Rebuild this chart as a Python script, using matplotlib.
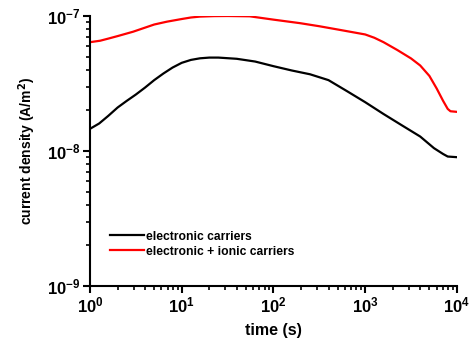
import numpy as np
import matplotlib
matplotlib.use('Agg')
import matplotlib.pyplot as plt
from matplotlib.ticker import LogLocator, NullFormatter

plt.rcParams['font.family'] = ['Liberation Sans', 'DejaVu Sans']
plt.rcParams['font.weight'] = 'bold'

# electronic carriers only
t_elec = [1, 1.26, 1.58, 2.0, 2.51, 3.16, 3.98, 5.01, 6.31, 7.94, 10, 12.6, 15.8, 20, 25.1,
          39.8, 63.1, 100, 158, 251, 398, 631, 1000, 1585, 2512, 3981, 5623, 7079, 7943, 10000]
j_elec = [1.46e-8, 1.6e-8, 1.82e-8, 2.1e-8, 2.35e-8, 2.62e-8, 2.95e-8, 3.35e-8, 3.75e-8, 4.15e-8,
          4.5e-8, 4.73e-8, 4.86e-8, 4.92e-8, 4.92e-8, 4.82e-8, 4.6e-8, 4.25e-8, 3.95e-8, 3.7e-8,
          3.35e-8, 2.78e-8, 2.3e-8, 1.88e-8, 1.55e-8, 1.28e-8, 1.05e-8, 9.5e-9, 9.1e-9, 9.0e-9]

# electronic + ionic carriers
t_ion = [1, 1.29, 1.58, 2.0, 2.95, 3.98, 5.01, 6.9, 10, 12.6, 15.8, 22.4, 31.6, 55, 100,
         195, 316, 525, 1000, 1259, 1585, 2239, 3162, 3981, 5012, 6026, 7079, 7943, 8511, 10000]
j_ion = [6.4e-8, 6.56e-8, 6.8e-8, 7.1e-8, 7.65e-8, 8.2e-8, 8.65e-8, 9.08e-8, 9.5e-8, 9.75e-8,
         9.9e-8, 9.98e-8, 1.0e-7, 9.95e-8, 9.4e-8, 8.85e-8, 8.4e-8, 7.9e-8, 7.3e-8, 6.9e-8,
         6.4e-8, 5.6e-8, 4.85e-8, 4.3e-8, 3.6e-8, 2.9e-8, 2.35e-8, 2.05e-8, 1.97e-8, 1.95e-8]

fig = plt.figure(figsize=(4.72, 3.45), dpi=100)
ax = fig.add_axes([0.1907, 0.171, 0.7773, 0.7826])

ax.plot(t_elec, j_elec, color='black', lw=1.6, label='electronic carriers')
ax.plot(t_ion, j_ion, color='red', lw=1.6, label='electronic + ionic carriers')

ax.set_xscale('log')
ax.set_yscale('log')
ax.set_xlim(1, 1e4)
ax.set_ylim(1e-9, 1e-7)

for s in ['top', 'right']:
    ax.spines[s].set_visible(False)
for s in ['left', 'bottom']:
    ax.spines[s].set_linewidth(1.5)

ax.xaxis.set_major_locator(LogLocator(base=10, numticks=10))
ax.xaxis.set_minor_locator(LogLocator(base=10, subs=np.arange(2, 10), numticks=20))
ax.yaxis.set_minor_locator(LogLocator(base=10, subs=np.arange(2, 10), numticks=20))
ax.xaxis.set_minor_formatter(NullFormatter())
ax.yaxis.set_minor_formatter(NullFormatter())
ax.tick_params(which='major', direction='out', length=5, width=1.5, labelsize=12, pad=2)
ax.tick_params(which='minor', direction='out', length=3, width=1.2)
for lab in ax.get_xticklabels() + ax.get_yticklabels():
    lab.set_fontweight('bold')

ax.set_xlabel('time (s)', fontsize=11.5, fontweight='bold', labelpad=5)
ax.set_ylabel('current density (A/m$^2$)', fontsize=10, fontweight='bold', labelpad=6)

leg = ax.legend(loc='lower left', bbox_to_anchor=(0.025, 0.065), frameon=False,
                fontsize=8.7, handlelength=2.8, handletextpad=0.2, labelspacing=0.25)
for txt in leg.get_texts():
    txt.set_fontweight('bold')

fig.savefig('out.png', dpi=100)
